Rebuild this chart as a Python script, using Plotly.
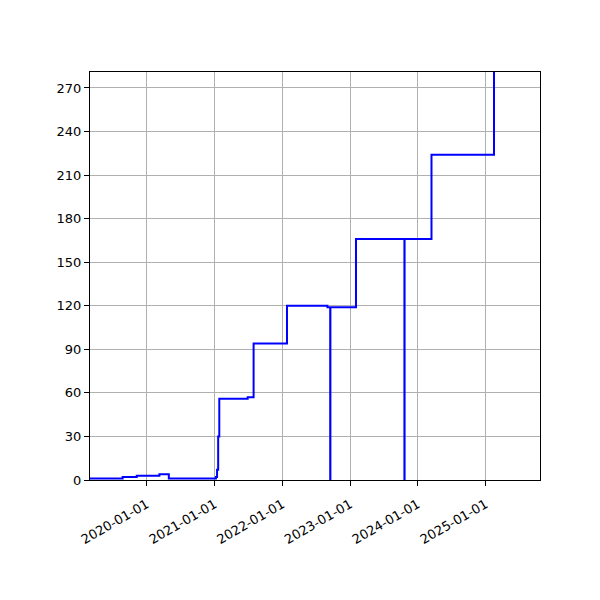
import plotly.graph_objects as go

# Step series (date, value)
dates = [
    "2019-03-01", "2019-08-24", "2019-11-08", "2020-03-09", "2020-04-29",
    "2021-01-08", "2021-01-14", "2021-01-20", "2021-01-26",
    "2021-06-28", "2021-07-30", "2022-01-26", "2022-09-01",
    "2022-09-16", "2022-09-17", "2023-02-02",
    "2023-10-21", "2023-10-22", "2024-03-15", "2025-02-15", "2025-10-21",
]
values = [
    1, 2, 3, 4, 1,
    2, 7, 30, 56,
    57, 94, 120, 119,
    0, 119, 166,
    0, 166, 224, 320, 320,
]

y_ticks = [0, 30, 60, 90, 120, 150, 180, 210, 240, 270]
x_ticks = ["2020-01-01", "2021-01-01", "2022-01-01", "2023-01-01", "2024-01-01", "2025-01-01"]

fig = go.Figure()

fig.add_trace(go.Scatter(
    x=dates, y=values,
    mode="lines",
    line=dict(color="blue", width=2, shape="hv"),
    showlegend=False,
))

axis_common = dict(
    showline=True, linecolor="black", linewidth=1, mirror=True,
    ticks="outside", ticklen=5, tickcolor="black", tickwidth=1,
    showgrid=True, gridcolor="#b0b0b0", gridwidth=1,
    zeroline=False,
    tickfont=dict(family="DejaVu Sans", size=13, color="black"),
)

# page adds ~8px body margin, so margins are shifted to compensate
fig.update_layout(
    width=600, height=600,
    margin=dict(l=82, r=68, t=64, b=128),
    plot_bgcolor="white", paper_bgcolor="white",
    xaxis=dict(
        range=["2019-03-01", "2025-10-21"],
        tickvals=x_ticks, ticktext=x_ticks,
        tickangle=-30,
        ticklabelstandoff=6,
        **axis_common,
    ),
    yaxis=dict(
        range=[0, 281],
        tickvals=y_ticks,
        **axis_common,
    ),
)

fig.write_html("out.html")
